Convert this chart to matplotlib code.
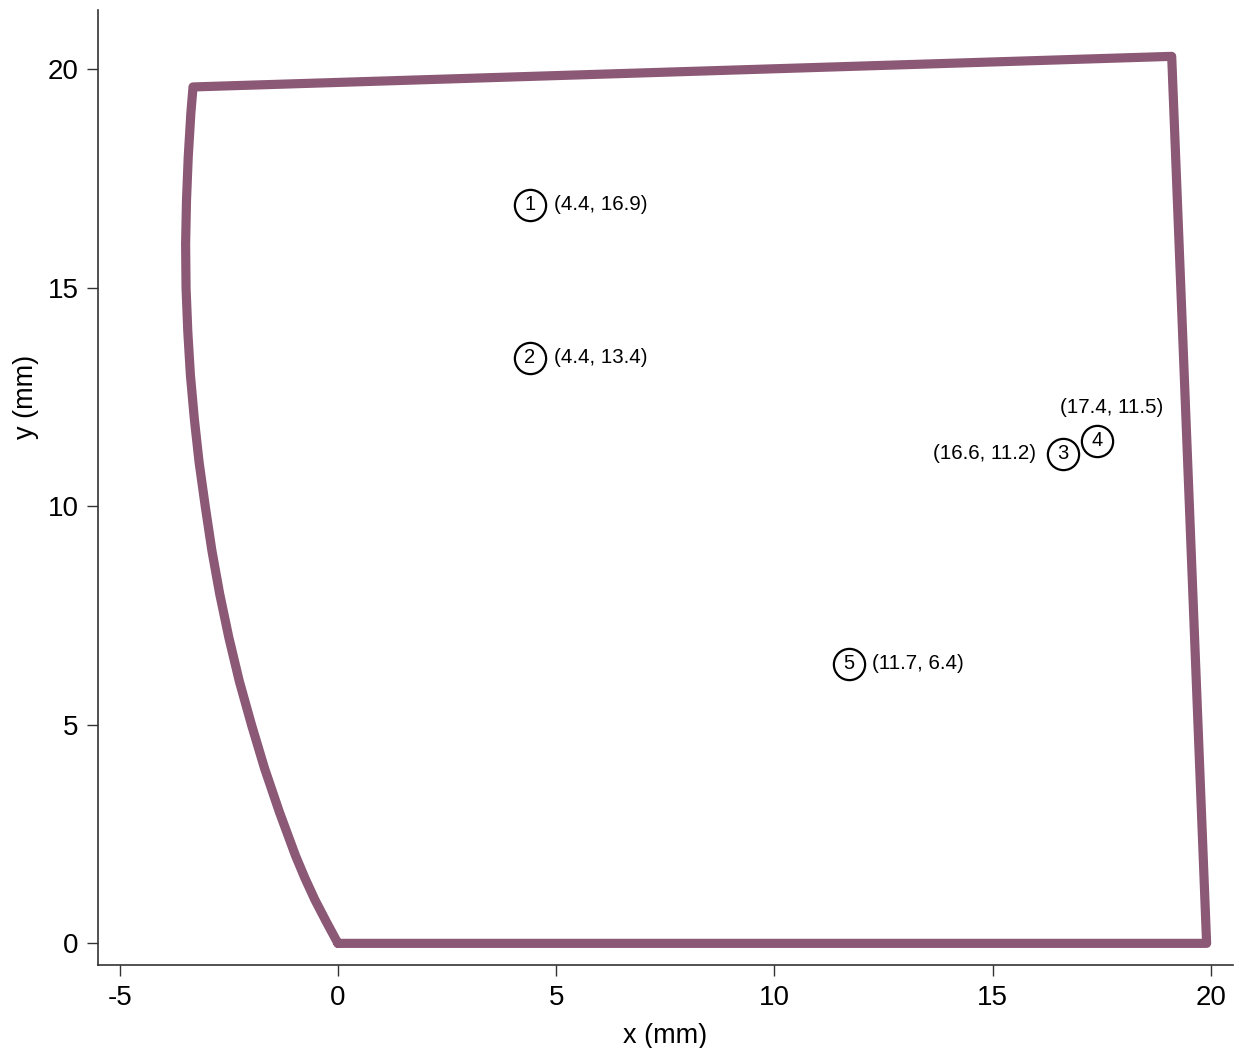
import matplotlib.pyplot as plt

plt.rcParams['font.family'] = ['Liberation Sans', 'DejaVu Sans']
plt.rcParams['axes.unicode_minus'] = False

# straight edges of the outline (mm): bottom-left -> bottom-right -> top-right -> top-left
corner_x = [0, 19.9, 19.1, -3.32]
corner_y = [0, 0, 20.3, 19.6]

# curved left edge from top to bottom
curve_y = [19, 18, 17, 16, 15, 14, 13, 12, 11, 10, 9, 8, 7, 6, 5, 4, 3, 2, 1.5, 1, 0.5, 0]
curve_x = [-3.37, -3.43, -3.47, -3.49, -3.48, -3.44, -3.38, -3.29, -3.18, -3.04,
           -2.89, -2.71, -2.5, -2.26, -1.98, -1.68, -1.34, -0.97, -0.76, -0.53, -0.27, 0]

# labelled points
pt_ids = ['1', '2', '3', '4', '5']
pt_x = [4.4, 4.4, 16.6, 17.4, 11.7]
pt_y = [16.9, 13.4, 11.2, 11.5, 6.4]

# where the coordinate text goes (offset in points, alignment)
label_pos = {
    '1': ((17, 0), 'left'),
    '2': ((17, 0), 'left'),
    '3': ((-19, 0), 'right'),
    '4': ((10, 24), 'center'),
    '5': ((17, 0), 'left'),
}

fig = plt.figure(figsize=(12.39, 10.48), dpi=100)
ax = fig.add_axes([0.079, 0.079, 0.916, 0.911])

ax.plot(corner_x + curve_x, corner_y + curve_y, color='#8b5876', lw=6.6,
        solid_joinstyle='round', solid_capstyle='round', zorder=2)

for pid, x, y in zip(pt_ids, pt_x, pt_y):
    ax.plot(x, y, 'o', ms=22.5, mfc='white', mec='black', mew=1.6, zorder=3)
    ax.text(x, y, pid, ha='center', va='center', fontsize=14.5, zorder=4)
    (dx, dy), ha = label_pos[pid]
    ax.annotate(f'({x}, {y})', (x, y), xytext=(dx, dy), textcoords='offset points',
                ha=ha, va='center', fontsize=14.8)

ax.set_xlim(-5.5, 20.5)
ax.set_ylim(-0.5, 21.35)
ax.set_xticks([-5, 0, 5, 10, 15, 20])
ax.set_yticks([0, 5, 10, 15, 20])
ax.spines['top'].set_visible(False)
ax.spines['right'].set_visible(False)
for s in ['left', 'bottom']:
    ax.spines[s].set_color('#333333')
    ax.spines[s].set_linewidth(1.2)
ax.tick_params(length=8, width=1, color='#333333', labelsize=20, pad=6)
ax.set_xlabel('x (mm)', fontsize=19.5, labelpad=9)
ax.set_ylabel('y (mm)', fontsize=19.5)
ax.yaxis.set_label_coords(-0.052, 0.595)

fig.savefig('out.png', dpi=100)
